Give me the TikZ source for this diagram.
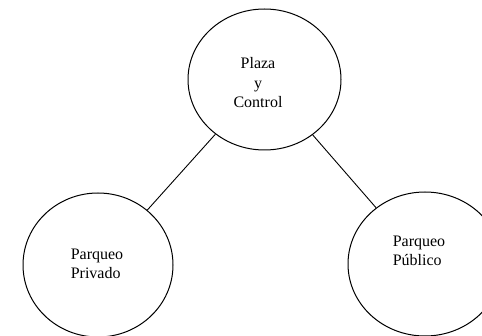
\documentclass[tikz,border=0pt]{standalone}
\usepackage{fontspec}
\setmainfont{Liberation Serif}
\usetikzlibrary{shapes.geometric}
\begin{document}
\begin{tikzpicture}[x=1pt,y=1pt,
  circ/.style={draw, line width=1pt, ellipse, inner sep=0pt},
  lbl/.style={font=\fontsize{16}{19.5}\selectfont, inner sep=0pt},
  link/.style={line width=0.9pt}]
\useasboundingbox (0,0) rectangle (482,335);
\node[circ, minimum width=153pt, minimum height=141pt] (pc) at (264.5,255.5) {};
\node[circ, minimum width=150pt, minimum height=144pt] (pp) at (98,70) {};
\node[circ, minimum width=154pt, minimum height=144pt] (pb) at (425,71) {};
\node[lbl, align=center] (tpc) at (258,252) {Plaza\\y\\Control};
\node[lbl, align=left] (tpp) at (97,71) {Parqueo\\Privado};
\node[lbl, align=left] (tpb) at (419,84) {Parqueo\\Público};
\draw[link] (pc) -- (pp);
\draw[link] (pc) -- (pb);
\end{tikzpicture}
\end{document}
